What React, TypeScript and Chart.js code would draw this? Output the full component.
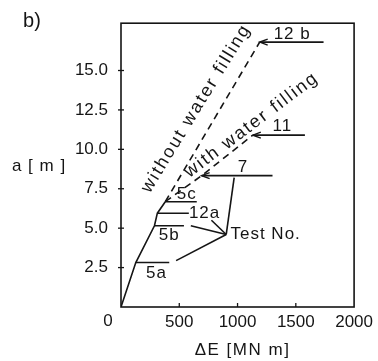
import React, { useEffect, useRef } from "react";
import { Chart, registerables } from "chart.js";

Chart.register(...registerables);

const INK = "#151515";
const FONT = "'Liberation Sans', Arial, sans-serif";

// Axis ticks
const xTickValues = [0, 500, 1000, 1500, 2000];
const yTickValues = [0, 2.5, 5, 7.5, 10, 12.5, 15];

// Main solid curve (ΔE, a) through tests 5a, 5b, 12a, 5c
const curveX = [0, 127, 287, 312, 380];
const curveY = [0, 2.82, 5.15, 5.95, 6.68];

// Dashed branch: without water filling (5c -> 12b)
const withoutX = [380, 1190];
const withoutY = [6.68, 16.8];

// Dashed branch: with water filling (5c -> 7 -> 11)
const withX = [380, 692, 1131];
const withY = [6.68, 8.33, 10.9];

// Horizontal test-level lines
const testNames = ["5a", "5b", "12a", "5c", "7", "11", "12b"];
const testLevels = [2.82, 5.15, 5.95, 6.68, 8.33, 10.9, 16.8];
const testStart = [127, 287, 312, 380, 692, 1131, 1190];
const testEnd = [414, 540, 582, 650, 1300, 1578, 1738];
const arrowTests = ["7", "11", "12b"];

// "Test No." pointer vertex and pointer ends
const pointerVertex = { x: 903, y: 4.6 };
const pointerEndX = [971, 776, 599, 473];
const pointerEndY = [8.2, 5.5, 5.15, 2.94];

// Text annotations in data coordinates
const labelTexts = ["5a", "5b", "12a", "5c", "7", "11", "12 b", "Test No."];
const labelX = [304, 414, 717, 565, 1047, 1384, 1469, 1241];
const labelY = [2.14, 4.53, 5.94, 7.17, 8.88, 11.46, 17.28, 4.6];

const rotTexts = ["without water filling", "with water filling"];
const rotX = [645, 1120];
const rotY = [12.6, 11.55];
const rotAngle = [58.5, 37];

const pts = (xs: number[], ys: number[]) => xs.map((v, i) => ({ x: v, y: ys[i] }));

const decorPlugin = {
  id: "decor",
  afterDatasetsDraw(chart: any) {
    const { ctx, chartArea: ca, scales } = chart;
    const xs = scales.x;
    const ys = scales.y;
    ctx.save();
    ctx.strokeStyle = INK;
    ctx.fillStyle = INK;
    ctx.lineWidth = 1.6;
    ctx.strokeRect(ca.left, ca.top, ca.right - ca.left, ca.bottom - ca.top);

    // tick marks
    ctx.lineWidth = 1.3;
    ys.ticks.forEach((t: any) => {
      if (t.value === 0) return;
      const py = ys.getPixelForValue(t.value);
      ctx.beginPath();
      ctx.moveTo(ca.left - 3, py);
      ctx.lineTo(ca.left + 3, py);
      ctx.stroke();
    });
    xs.ticks.forEach((t: any) => {
      if (t.value === 0 || t.value === 2000) return;
      const px = xs.getPixelForValue(t.value);
      ctx.beginPath();
      ctx.moveTo(px, ca.bottom);
      ctx.lineTo(px, ca.bottom - 4);
      ctx.stroke();
    });

    // arrowheads
    ctx.lineWidth = 1.4;
    arrowTests.forEach((name) => {
      const i = testNames.indexOf(name);
      const px = xs.getPixelForValue(testStart[i]);
      const py = ys.getPixelForValue(testLevels[i]);
      ctx.beginPath();
      ctx.moveTo(px + 8, py - 3);
      ctx.lineTo(px, py);
      ctx.lineTo(px + 8, py + 3);
      ctx.stroke();
    });

    // labels
    ctx.font = `17px ${FONT}`;
    ctx.textAlign = "center";
    ctx.textBaseline = "middle";
    (ctx as any).letterSpacing = "1px";
    labelTexts.forEach((t, i) => {
      ctx.fillText(t, xs.getPixelForValue(labelX[i]), ys.getPixelForValue(labelY[i]));
    });

    ctx.font = `18px ${FONT}`;
    (ctx as any).letterSpacing = "2px";
    rotTexts.forEach((t, i) => {
      ctx.save();
      ctx.translate(xs.getPixelForValue(rotX[i]), ys.getPixelForValue(rotY[i]));
      ctx.rotate((-rotAngle[i] * Math.PI) / 180);
      ctx.fillText(t, 0, 0);
      ctx.restore();
    });

    ctx.font = `17px ${FONT}`;
    // corner zero
    (ctx as any).letterSpacing = "0px";
    ctx.fillText("0", ca.left - 13, ca.bottom + 14);

    // axis titles
    (ctx as any).letterSpacing = "1.5px";
    ctx.fillText("ΔE [MN m]", (ca.left + ca.right) / 2 + 5, ca.bottom + 43);
    (ctx as any).letterSpacing = "1px";
    ctx.fillText("a [ m ]", 39, ys.getPixelForValue(8.9));

    // panel tag
    (ctx as any).letterSpacing = "0px";
    ctx.font = `20px ${FONT}`;
    ctx.fillText("b)", 32, 21);
    ctx.restore();
  },
};

export default function App() {
  const ref = useRef<HTMLCanvasElement | null>(null);

  useEffect(() => {
    if (!ref.current) return;
    const line = (data: any[], dashed = false) => ({
      data,
      showLine: true,
      borderColor: INK,
      borderWidth: 1.6,
      borderDash: dashed ? [7, 5] : [],
      pointRadius: 0,
      fill: false,
      tension: 0,
    });

    const datasets: any[] = [
      line(pts(curveX, curveY)),
      line(pts(withoutX, withoutY), true),
      line(pts(withX, withY), true),
    ];
    testNames.forEach((_, i) => {
      datasets.push(
        line([
          { x: testStart[i], y: testLevels[i] },
          { x: testEnd[i], y: testLevels[i] },
        ])
      );
    });
    pointerEndX.forEach((ex, i) => {
      datasets.push(line([pointerVertex, { x: ex, y: pointerEndY[i] }]));
    });

    const chart = new Chart(ref.current, {
      type: "scatter",
      data: { datasets },
      plugins: [decorPlugin],
      options: {
        animation: false,
        responsive: true,
        maintainAspectRatio: false,
        layout: { padding: { top: 14, right: 20, left: 0, bottom: 0 } },
        plugins: { legend: { display: false }, tooltip: { enabled: false } },
        scales: {
          x: {
            type: "linear",
            min: 0,
            max: 2000,
            afterBuildTicks: (s: any) => {
              s.ticks = xTickValues.map((v) => ({ value: v }));
            },
            afterFit: (s: any) => {
              s.height = 54;
            },
            grid: { display: true, drawOnChartArea: false, drawTicks: false },
            border: { display: false },
            ticks: {
              padding: 5,
              color: INK,
              font: { family: FONT, size: 17 },
              maxRotation: 0,
              autoSkip: false,
              callback: (v: any) => (v === 0 ? "" : String(v)),
            },
          },
          y: {
            type: "linear",
            min: 0,
            max: 18,
            afterBuildTicks: (s: any) => {
              s.ticks = yTickValues.map((v) => ({ value: v }));
            },
            afterFit: (s: any) => {
              s.width = 121;
            },
            grid: { display: true, drawOnChartArea: false, drawTicks: false },
            border: { display: false },
            ticks: {
              padding: 13,
              color: INK,
              font: { family: FONT, size: 17 },
              autoSkip: false,
              callback: (v: any) => (v === 0 ? "" : Number(v).toFixed(1)),
            },
          },
        },
      },
    });
    return () => chart.destroy();
  }, []);

  return (
    <div style={{ position: "fixed", left: 0, top: 0, width: 378, height: 361, background: "#fff" }}>
      <canvas ref={ref} />
    </div>
  );
}
